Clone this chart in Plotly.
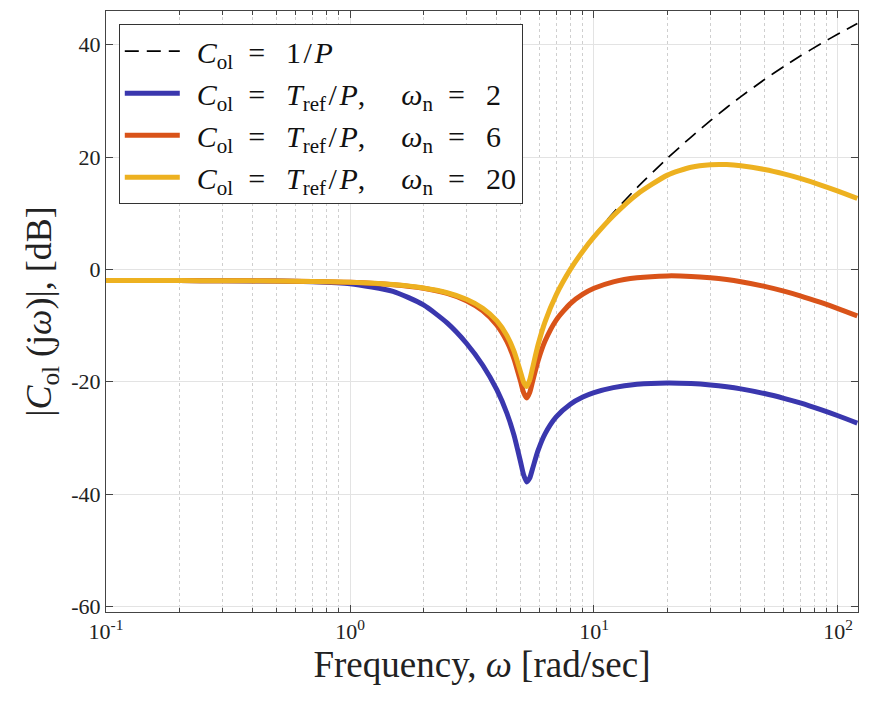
import plotly.graph_objects as go

# Frequencies [rad/sec] at which the curves were read
freq = [0.1, 0.2, 0.3, 0.5, 0.7, 1.0, 1.5, 2.0, 2.5, 3.0, 3.5, 4.0, 4.4, 4.7, 5.0,
        5.15, 5.3, 5.45, 5.6, 5.9, 6.3, 7.0, 8.0, 9.0, 10, 12, 15, 20, 25, 30,
        35, 40, 50, 60, 70, 85, 100, 120]

# |C_ol| in dB
inv_p = [-1.99, -2.00, -2.02, -2.07, -2.14, -2.30, -2.71, -3.32, -4.16, -5.32,
         -6.91, -9.16, -11.78, -14.54, -18.24, -20.09, -20.82, -19.68, -17.54,
         -13.39, -9.30, -4.47, 0.10, 3.41, 6.03, 10.08, 14.54, 19.79, 23.56,
         26.47, 28.82, 30.76, 33.81, 36.13, 37.98, 40.17, 41.90, 43.76]
wn2 = [-1.99, -2.00, -2.02, -2.09, -2.21, -2.56, -3.90, -6.33, -9.53, -13.15,
       -17.07, -21.46, -25.66, -29.52, -34.27, -36.62, -37.84, -37.17, -35.50,
       -32.24, -29.28, -26.26, -24.00, -22.73, -21.94, -21.05, -20.46, -20.21,
       -20.32, -20.57, -20.90, -21.28, -22.11, -22.96, -23.78, -24.97, -26.06, -27.37]
wn6 = [-1.99, -2.00, -2.02, -2.07, -2.14, -2.30, -2.73, -3.37, -4.29, -5.58,
       -7.39, -9.94, -12.88, -15.93, -19.95, -21.97, -22.89, -21.94, -19.99,
       -16.26, -12.76, -9.02, -6.09, -4.42, -3.37, -2.22, -1.49, -1.16, -1.25,
       -1.50, -1.82, -2.20, -3.02, -3.87, -4.70, -5.89, -6.97, -8.28]
wn20 = [-1.99, -2.00, -2.02, -2.07, -2.14, -2.30, -2.71, -3.32, -4.16, -5.32,
        -6.91, -9.17, -11.79, -14.55, -18.26, -20.11, -20.84, -19.70, -17.57,
        -13.42, -9.34, -4.54, -0.01, 3.24, 5.77, 9.55, 13.35, 16.78, 18.19,
        18.64, 18.66, 18.46, 17.78, 16.99, 16.19, 15.02, 13.94, 12.63]

PRE = "\u2009\u2009"
EQ = "\u2002=\u2002\u2009"
SL = "\u200a/\u200a"
GAP = ",\u2002\u2002\u2009"
COL = "<i>C</i><sub>ol</sub>"
TREF = "<i>T</i><sub>ref</sub>" + SL + "<i>P</i>" + GAP + "<i>ω</i><sub>n</sub>" + EQ
names = [
    PRE + COL + EQ + "1" + SL + "<i>P</i>",
    PRE + COL + EQ + TREF + "2",
    PRE + COL + EQ + TREF + "6",
    PRE + COL + EQ + TREF + "20",
]
xtick_vals = [0.1, 1, 10, 100]
xtick_text = ["10<sup>-1</sup>", "10<sup>0</sup>", "10<sup>1</sup>", "10<sup>2</sup>"]
ytick_vals = [-60, -40, -20, 0, 20, 40]
ytick_text = ["-60", "-40", "-20", "0", "20", "40"]

FONT = "Liberation Serif"

fig = go.Figure()
fig.add_trace(go.Scatter(x=freq, y=inv_p, name=names[0], mode="lines",
                         line=dict(color="black", width=1.7, dash="14px,8px",
                                   shape="spline", smoothing=0.6)))
for vals, nm, col in [(wn2, names[1], "#3A37AE"), (wn6, names[2], "#D95319"),
                      (wn20, names[3], "#EDB120")]:
    fig.add_trace(go.Scatter(x=freq, y=vals, name=nm, mode="lines",
                             line=dict(color=col, width=5, shape="spline",
                                       smoothing=0.6)))

axis_common = dict(showline=True, linecolor="#444", linewidth=1, mirror="ticks",
                   ticks="inside", tickcolor="#444", ticklen=7,
                   showgrid=True, gridcolor="#e3e3e3", gridwidth=1,
                   zeroline=False, automargin=False,
                   tickfont=dict(family=FONT, size=22, color="#222"))

fig.update_xaxes(type="log", range=[-1, 2.082], tickvals=xtick_vals,
                 ticktext=xtick_text,
                 title=dict(text="Frequency, <i>ω</i> [rad/sec]",
                            font=dict(family=FONT, size=37, color="#222"), standoff=6),
                 minor=dict(ticks="inside", ticklen=4, tickcolor="#444",
                            showgrid=True, gridcolor="#cfcfcf", griddash="dot",
                            dtick="D1"),
                 **axis_common)
fig.update_yaxes(range=[-61, 46], tickvals=ytick_vals, ticktext=ytick_text,
                 title=dict(text="|<i>C</i><sub>ol</sub> (j<i>ω</i>)|, [dB]",
                            font=dict(family=FONT, size=36, color="#222"), standoff=8),
                 **axis_common)

fig.update_layout(
    width=893, height=723,
    margin=dict(l=98, r=43, t=3, b=119),
    plot_bgcolor="white", paper_bgcolor="white",
    legend=dict(x=0.017, y=0.978, xanchor="left", yanchor="top",
                bgcolor="white", bordercolor="#333", borderwidth=1,
                font=dict(family=FONT, size=30, color="#111"),
                itemwidth=55, tracegroupgap=0),
    showlegend=True,
)

fig.write_html("out.html")
